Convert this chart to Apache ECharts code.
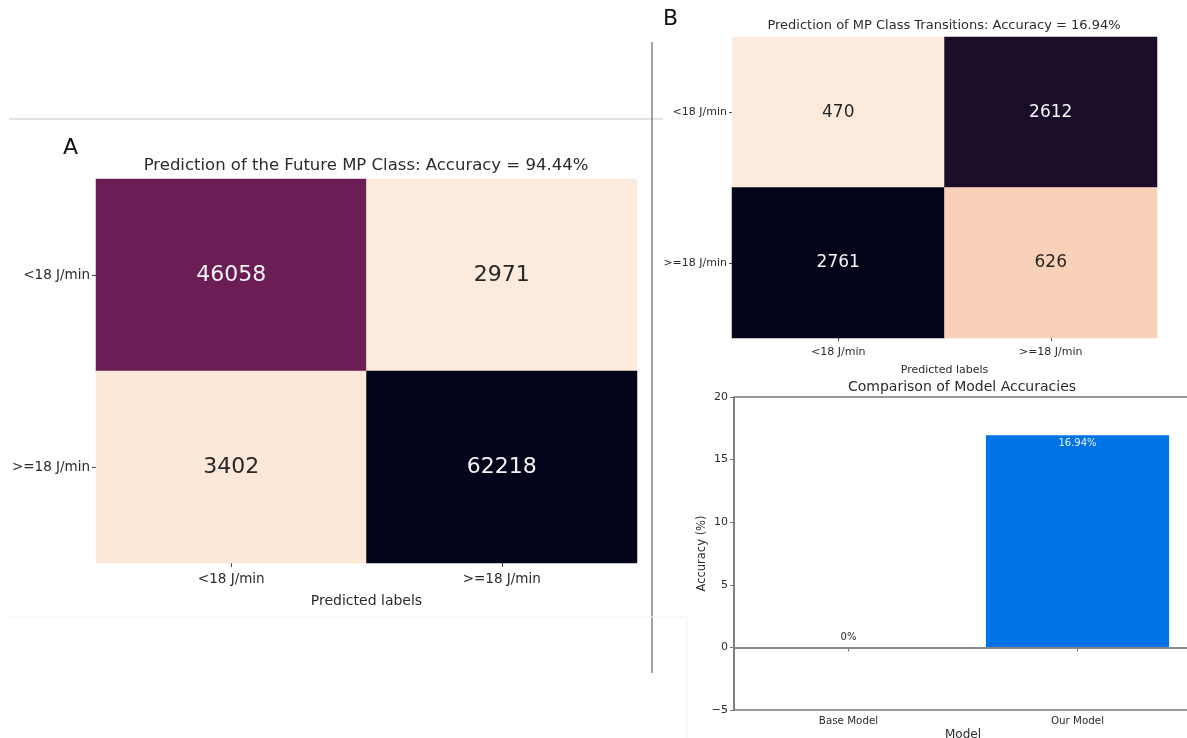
<!DOCTYPE html>
<html>
<head>
<meta charset="utf-8">
<title>MP class prediction</title>
<script src="https://cdn.jsdelivr.net/npm/echarts@6/dist/echarts.min.js"></script>
<style>
  html, body { margin: 0; padding: 0; background: #fff; }
  #chart { width: 1187px; height: 738px; }
</style>
</head>
<body>
<div id="chart"></div>
<script>
// Class labels shared by both confusion matrices
const classLabels = ['<18 J/min', '>=18 J/min'];

// Panel A: future MP class (rows = actual, columns = predicted)
const futureRow1 = [46058, 2971];
const futureRow2 = [3402, 62218];

// Panel B: MP class transitions (rows = actual, columns = predicted)
const transitionRow1 = [470, 2612];
const transitionRow2 = [2761, 626];

// Accuracy comparison
const modelNames = ['Base Model', 'Our Model'];
const modelAccuracy = [0, 16.94];
const accuracyTicks = [-5, 0, 5, 10, 15, 20];

// reversed "rocket" palette: light for low counts, dark for high counts
const rocketR = ['#FCEBDD', '#F6B48F', '#F37651', '#E13342', '#AD1759', '#701F57', '#35193E', '#03051A'];

const FONT = 'DejaVu Sans';
const TXT = '#2b2b2b';

function matrixData(rows) {
  const flat = rows.flat();
  const lo = Math.min(...flat), hi = Math.max(...flat);
  const data = [];
  rows.forEach((row, r) => row.forEach((v, c) => {
    const t = (v - lo) / (hi - lo);
    data.push({ value: [c, r, v], label: { color: t > 0.5 ? '#f4f4f4' : '#262626' } });
  }));
  return { data, lo, hi };
}

const matA = matrixData([futureRow1, futureRow2]);
const matB = matrixData([transitionRow1, transitionRow2]);

const chart = echarts.init(document.getElementById('chart'), null, { renderer: 'canvas' });

const tickLabelStyle = (size) => ({ color: TXT, fontFamily: FONT, fontSize: size });
const titleText = (size, color) => ({ fontSize: size, fontWeight: 'normal', color: color || TXT, fontFamily: FONT });

chart.setOption({
  animation: false,
  backgroundColor: '#fff',
  textStyle: { fontFamily: FONT },
  title: [
    { text: 'A', left: 63, top: 137, padding: 0, textStyle: titleText(22, '#111') },
    { text: 'Prediction of the Future MP Class: Accuracy = 94.44%', left: 366, top: 157, padding: 0, textAlign: 'center',
      textStyle: titleText(16.5) },
    { text: 'B', left: 663, top: 8, padding: 0, textStyle: titleText(22, '#111') },
    { text: 'Prediction of MP Class Transitions: Accuracy = 16.94%', left: 944, top: 19, padding: 0, textAlign: 'center',
      textStyle: titleText(13) },
    { text: 'Comparison of Model Accuracies', left: 962, top: 380, padding: 0, textAlign: 'center',
      textStyle: titleText(14) }
  ],
  grid: [
    { left: 96, top: 179, width: 541, height: 384, outerBoundsMode: 'none' },
    { left: 732, top: 37, width: 425, height: 301, outerBoundsMode: 'none' },
    { left: 734, top: 397, width: 458, height: 313, outerBoundsMode: 'none',
      show: true, borderColor: '#777', borderWidth: 1.5 }
  ],
  xAxis: [
    { type: 'category', gridIndex: 0, data: classLabels,
      axisLine: { show: false }, axisTick: { show: true, alignWithLabel: true, length: 4, lineStyle: { color: '#444' } },
      axisLabel: Object.assign({ margin: 9 }, tickLabelStyle(13.5)),
      name: 'Predicted labels', nameLocation: 'middle', nameGap: 31,
      nameTextStyle: { color: TXT, fontFamily: FONT, fontSize: 14 } },
    { type: 'category', gridIndex: 1, data: classLabels,
      axisLine: { show: false }, axisTick: { show: true, alignWithLabel: true, length: 3, lineStyle: { color: '#444' } },
      axisLabel: Object.assign({ margin: 9 }, tickLabelStyle(11)),
      name: 'Predicted labels', nameLocation: 'middle', nameGap: 27,
      nameTextStyle: { color: TXT, fontFamily: FONT, fontSize: 11 } },
    { type: 'category', gridIndex: 2, data: modelNames,
      axisLine: { show: true, lineStyle: { color: '#777', width: 1.5 } },
      axisTick: { show: true, alignWithLabel: true, length: 4, lineStyle: { color: '#777' } },
      axisLabel: Object.assign({ margin: 6 }, tickLabelStyle(10.3)),
      name: 'Model', nameLocation: 'middle', nameGap: 19,
      nameTextStyle: { color: TXT, fontFamily: FONT, fontSize: 12 } }
  ],
  yAxis: [
    { type: 'category', gridIndex: 0, data: classLabels, inverse: true,
      axisLine: { show: false }, axisTick: { show: true, alignWithLabel: true, length: 4, lineStyle: { color: '#444' } },
      axisLabel: Object.assign({ margin: 6 }, tickLabelStyle(13.5)) },
    { type: 'category', gridIndex: 1, data: classLabels, inverse: true,
      axisLine: { show: false }, axisTick: { show: true, alignWithLabel: true, length: 3, lineStyle: { color: '#444' } },
      axisLabel: Object.assign({ margin: 5 }, tickLabelStyle(11)) },
    { type: 'value', gridIndex: 2, min: accuracyTicks[0], max: accuracyTicks[accuracyTicks.length - 1], interval: 5,
      splitLine: { show: false },
      axisLine: { show: true, lineStyle: { color: '#777', width: 1.5 } },
      axisTick: { show: true, length: 4, lineStyle: { color: '#777' } },
      axisLabel: Object.assign({ margin: 6, formatter: (v) => String(v).replace('-', '\u2212') }, tickLabelStyle(11)),
      name: 'Accuracy (%)', nameLocation: 'middle', nameGap: 26, nameRotate: 90,
      nameTextStyle: { color: TXT, fontFamily: FONT, fontSize: 11.5 } }
  ],
  visualMap: [
    { show: false, type: 'continuous', seriesIndex: 0, dimension: 2, min: matA.lo, max: matA.hi, inRange: { color: rocketR } },
    { show: false, type: 'continuous', seriesIndex: 1, dimension: 2, min: matB.lo, max: matB.hi, inRange: { color: rocketR } }
  ],
  series: [
    { type: 'heatmap', xAxisIndex: 0, yAxisIndex: 0, data: matA.data,
      label: { show: true, fontSize: 22, fontFamily: FONT, formatter: (p) => p.value[2] } },
    { type: 'heatmap', xAxisIndex: 1, yAxisIndex: 1, data: matB.data,
      label: { show: true, fontSize: 17, fontFamily: FONT, formatter: (p) => p.value[2] } },
    { type: 'bar', xAxisIndex: 2, yAxisIndex: 2, barWidth: '80%',
      itemStyle: { color: '#0073E6' },
      data: modelAccuracy.map((v) => ({
        value: v,
        label: v > 0
          ? { show: true, position: 'insideTop', distance: 3, color: '#e8f2ff', fontSize: 10, fontFamily: FONT }
          : { show: true, position: 'top', distance: 5, color: TXT, fontSize: 10, fontFamily: FONT }
      })),
      label: { formatter: (p) => p.value + '%' },
      markLine: { silent: true, symbol: 'none', label: { show: false },
        lineStyle: { color: '#888', width: 2, type: 'solid' }, data: [{ yAxis: 0 }] } }
  ],
  graphic: [
    // panel separators
    { type: 'line', shape: { x1: 9, y1: 119, x2: 663, y2: 119 }, style: { stroke: '#c8c8c8', lineWidth: 1.2 } },
    { type: 'line', shape: { x1: 652, y1: 42, x2: 652, y2: 673 }, style: { stroke: '#444', lineWidth: 1 } },
    { type: 'line', shape: { x1: 9, y1: 617, x2: 687, y2: 617 }, style: { stroke: '#f0f0f0', lineWidth: 1 } },
    { type: 'line', shape: { x1: 687, y1: 617, x2: 687, y2: 738 }, style: { stroke: '#f0f0f0', lineWidth: 1 } }
  ]
});
</script>
</body>
</html>
